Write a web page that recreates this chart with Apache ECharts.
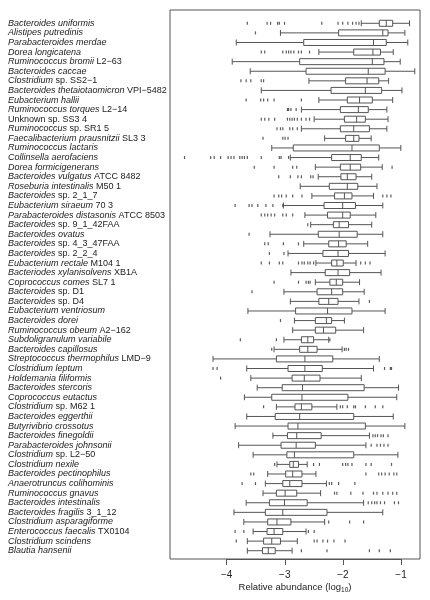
<!DOCTYPE html>
<html><head><meta charset="utf-8">
<script src="https://cdn.jsdelivr.net/npm/echarts@6/dist/echarts.min.js"></script>
<style>html,body{margin:0;padding:0;background:#fff}#c{width:430px;height:600px}</style>
</head><body><div id="c"></div>
<script>
// Italic (genus/species) part and upright (strain) part of each label
const italicNames = [
 'Bacteroides uniformis','Alistipes putredinis','Parabacteroides merdae','Dorea longicatena',
 'Ruminococcus bromii','Bacteroides caccae','Clostridium','Bacteroides thetaiotaomicron',
 'Eubacterium hallii','Ruminococcus torques','','Ruminococcus','Faecalibacterium prausnitzii',
 'Ruminococcus lactaris','Collinsella aerofaciens','Dorea formicigenerans','Bacteroides vulgatus',
 'Roseburia intestinalis','Bacteroides','Eubacterium siraeum','Parabacteroides distasonis',
 'Bacteroides','Bacteroides ovatus','Bacteroides','Bacteroides','Eubacterium rectale',
 'Bacteriodes xylanisolvens','Coprococcus comes','Bacteroides','Bacteroides','Eubacterium ventriosum',
 'Bacteroides dorei','Ruminococcus obeum','Subdoligranulum variabile','Bacteroides capillosus',
 'Streptococcus thermophilus','Clostridium leptum','Holdemania filiformis','Bacteroides stercoris',
 'Coprococcus eutactus','Clostridium','Bacteroides eggerthii','Butyrivibrio crossotus',
 'Bacteroides finegoldii','Parabacteroides johnsonii','Clostridium','Clostridium nexile',
 'Bacteroides pectinophilus','Anaerotruncus colihominis','Ruminococcus gnavus','Bacteroides intestinalis',
 'Bacteroides fragilis','Clostridium asparagiforme','Enterococcus faecalis','Clostridium scindens',
 'Blautia hansenii'
];
const strainNames = [
 '','','','','L2−63','','sp. SS2−1','VPI−5482','','L2−14','Unknown sp. SS3 4','sp. SR1 5','SL3 3',
 '','','','ATCC 8482','M50 1','sp. 2_1_7','70 3','ATCC 8503','sp. 9_1_42FAA','','sp. 4_3_47FAA',
 'sp. 2_2_4','M104 1','XB1A','SL7 1','sp. D1','sp. D4','','','A2−162','','','LMD−9','','','','',
 'sp. M62 1','','','','','sp. L2−50','','','','','','3_1_12','','TX0104','',''
];
// [whisker low, Q1, median, Q3, whisker high]
const boxStats = [
 [-1.68,-1.37,-1.25,-1.14,-0.85],[-3.07,-2.07,-1.31,-1.22,-0.93],[-3.83,-2.67,-1.47,-1.25,-0.88],
 [-2.41,-1.81,-1.48,-1.35,-1.13],[-3.90,-2.74,-1.49,-1.29,-1.01],[-3.59,-2.63,-1.56,-1.27,-0.76],
 [-2.58,-1.95,-1.58,-1.38,-1.21],[-3.40,-2.20,-1.61,-1.33,-0.98],[-2.41,-1.92,-1.71,-1.49,-1.14],
 [-2.71,-2.04,-1.73,-1.56,-1.24],[-2.49,-1.97,-1.76,-1.61,-1.22],[-2.71,-2.04,-1.81,-1.54,-1.24],
 [-2.31,-1.95,-1.81,-1.72,-1.51],[-3.22,-2.85,-1.84,-1.37,-1.00],[-2.90,-2.19,-1.87,-1.68,-1.38],
 [-2.47,-2.04,-1.87,-1.69,-1.32],[-2.42,-2.03,-1.92,-1.77,-1.50],[-2.73,-2.23,-1.92,-1.74,-1.41],
 [-2.53,-2.14,-1.97,-1.84,-1.47],[-3.02,-2.32,-2.00,-1.78,-1.31],[-2.65,-2.26,-2.00,-1.87,-1.43],
 [-2.55,-2.16,-2.06,-1.90,-1.50],[-3.25,-2.42,-2.06,-1.75,-1.31],[-2.67,-2.24,-2.07,-1.94,-1.57],
 [-2.94,-2.34,-2.08,-1.90,-1.27],[-2.46,-2.19,-2.10,-1.99,-1.77],[-2.89,-2.30,-2.08,-1.88,-1.34],
 [-2.47,-2.22,-2.11,-2.00,-1.71],[-3.01,-2.44,-2.19,-2.00,-1.63],[-2.90,-2.41,-2.24,-2.08,-1.72],
 [-3.63,-2.81,-2.26,-1.84,-1.27],[-2.83,-2.47,-2.28,-2.19,-1.97],[-2.86,-2.47,-2.33,-2.12,-1.64],
 [-3.01,-2.71,-2.60,-2.50,-2.24],[-3.18,-2.74,-2.60,-2.44,-2.01],[-4.23,-3.14,-2.65,-2.17,-1.37],
 [-3.65,-2.94,-2.65,-2.35,-1.47],[-3.58,-2.87,-2.66,-2.39,-1.68],[-3.47,-3.04,-2.69,-1.63,-1.04],
 [-3.69,-3.22,-2.70,-1.91,-1.07],[-3.14,-2.82,-2.71,-2.53,-2.10],[-3.65,-3.16,-2.74,-1.81,-1.13],
 [-3.85,-2.94,-2.77,-1.61,-0.93],[-3.20,-2.95,-2.79,-2.37,-1.54],[-3.79,-3.06,-2.80,-2.47,-1.60],
 [-3.54,-2.96,-2.83,-1.81,-1.05],[-3.13,-2.91,-2.85,-2.76,-2.61],[-3.29,-2.98,-2.86,-2.70,-2.46],
 [-3.33,-3.03,-2.91,-2.70,-2.28],[-3.37,-3.14,-2.99,-2.79,-2.38],[-3.66,-3.26,-3.00,-2.61,-1.64],
 [-3.87,-3.33,-3.03,-2.27,-1.31],[-3.70,-3.29,-3.13,-2.89,-2.31],[-3.54,-3.30,-3.18,-3.03,-2.63],
 [-3.64,-3.36,-3.22,-3.07,-2.78],[-3.64,-3.38,-3.28,-3.16,-2.87]
];
// outlying samples per row
const outlierValues = [
 [-3.64,-3.30,-3.24,-3.12,-3.09,-3.00,-2.36,-2.08,-2.00,-1.91,-1.83,-1.77,-1.72],
 [-3.50],[],
 [-3.40,-3.34,-3.03,-2.97,-2.93,-2.89,-2.84,-2.76,-2.71,-2.57],
 [],[],
 [-3.75,-3.66,-3.58,-3.40,-3.36],
 [],
 [-3.66,-3.41,-3.36,-3.29,-3.18,-2.71],
 [-2.95,-2.93,-2.89,-2.80],
 [-3.40,-3.34,-3.27,-3.17,-2.95,-2.91,-2.87,-2.83,-2.78,-2.71,-2.63,-2.57],
 [-3.13,-3.07,-3.03,-2.91,-2.86,-2.78],
 [-3.37,-3.03,-2.99,-2.94],
 [],
 [-4.72,-4.27,-4.21,-4.10,-3.97,-3.92,-3.87,-3.77,-3.73,-3.69,-3.64,-3.40,-3.09,-3.06,-2.93],
 [-3.52,-3.18,-2.86,-2.79,-1.15],
 [-3.10,-2.90,-2.77,-2.71,-2.55,-2.51],
 [],
 [-3.18,-3.10,-3.05,-2.97,-2.86,-2.70,-1.31,-1.24,-1.17],
 [-3.85,-3.61,-3.56,-3.46,-3.32,-3.20,-3.03],
 [-3.40,-3.34,-3.29,-3.23,-3.17,-3.03,-2.97,-2.86],
 [-2.60],[-3.61],
 [-3.34,-3.28,-3.02,-2.76],
 [-3.26,-3.01],
 [-3.40,-3.26,-3.09,-3.03,-2.76,-2.70,-2.66,-2.60,-2.56,-2.50,-1.69,-1.61,-1.53],
 [],
 [-3.18,-2.76,-2.63,-2.59,-2.56],
 [-3.56],[-1.54],[],[-3.07],[],
 [-3.76,-3.14,-2.22],
 [-3.22,-1.97,-1.94,-1.90],
 [],
 [-4.23,-4.16,-1.28,-1.18,-1.16],
 [-4.10],[],[],
 [-3.36,-2.04,-2.00,-1.92,-1.81,-1.78,-1.61,-1.44,-1.31],
 [],[],
 [-1.48,-1.44,-1.40,-1.34,-1.30,-1.22],
 [-1.51,-1.41,-1.35,-1.29,-1.22],
 [],
 [-3.17,-2.50,-2.40,-2.00,-1.95,-1.91,-1.84,-1.60,-1.51,-1.16],
 [-3.58,-3.53,-1.60,-1.38,-1.33,-1.27,-1.20,-1.12,-1.07],
 [-3.73,-3.50,-2.23,-2.19,-2.07,-1.79],
 [-2.14,-2.10,-1.86,-1.65,-1.47,-1.41,-1.31,-1.22,-1.14,-1.07],
 [-1.56,-1.50,-1.45,-1.41,-1.35,-1.28,-1.11,-1.04],
 [],
 [-2.24,-1.88,-1.64],
 [-3.85,-3.70,-2.59,-2.49],
 [-3.83,-2.49,-2.44,-2.34,-2.26,-2.15,-1.96],
 [-2.71,-2.27,-1.54,-1.37,-1.18]
];
const tickValues = [-4,-3,-2,-1];
const axisTitle = ['Relative abundance (log', '10', ')'];

const categories = italicNames.map((n,i)=> (n && strainNames[i]) ? n+' '+strainNames[i] : (n || strainNames[i]));
const outlierPoints = [];
outlierValues.forEach((row,i)=> row.forEach(v=> outlierPoints.push([v,i])));
const FONT = 'Liberation Sans, Arial, Helvetica, sans-serif';
const minus = v => (v<0?'\u2212':'') + Math.abs(v);

const chart = echarts.init(document.getElementById('c'), null, {renderer:'canvas'});
chart.setOption({
  animation:false,
  backgroundColor:'#fff',
  grid:[
    {left:170,right:10,top:10,bottom:41,show:true,borderColor:'#555',borderWidth:1,backgroundColor:'rgba(0,0,0,0)'},
    {left:170,right:10,top:18.5,bottom:44.5},
    {left:226.7,right:29,top:558,bottom:41}
  ],
  xAxis:[
    {gridIndex:0,type:'value',min:-4.97,max:-0.67,
     axisLine:{show:false},axisTick:{show:false},axisLabel:{show:false},splitLine:{show:false},
     name:'{a|'+axisTitle[0]+'}{s|'+axisTitle[1]+'}{a|'+axisTitle[2]+'}',
     nameLocation:'middle',nameGap:21,
     nameTextStyle:{rich:{
       a:{fontFamily:FONT,fontSize:9.5,color:'#222',lineHeight:12,verticalAlign:'middle'},
       s:{fontFamily:FONT,fontSize:6.5,color:'#222',lineHeight:14,verticalAlign:'bottom'}
     }}},
    {gridIndex:1,type:'value',min:-4.97,max:-0.67,show:false,splitLine:{show:false}},
    {gridIndex:2,type:'value',min:-4,max:-1,interval:1,
     axisLine:{show:true,lineStyle:{color:'#555',width:1}},
     axisTick:{show:true,length:6,inside:false,lineStyle:{color:'#555',width:1}},
     axisLabel:{formatter:minus,fontFamily:FONT,fontSize:10,color:'#222',margin:11,customValues:tickValues},
     splitLine:{show:false}}
  ],
  yAxis:[
    {gridIndex:0,type:'value',show:false},
    {gridIndex:1,type:'category',data:categories,inverse:true,
     axisLine:{show:false},axisTick:{show:false},splitLine:{show:false},
     axisLabel:{interval:0,align:'left',margin:162,hideOverlap:false,
       formatter:(v,i)=>{
         const it = italicNames[i], st = strainNames[i];
         let s = '';
         if(it) s += '{i|'+it+'}';
         if(st) s += '{n|'+(it?' ':'')+st+'}';
         return s;
       },
       rich:{
         i:{fontFamily:FONT,fontSize:9,fontStyle:'italic',color:'#222'},
         n:{fontFamily:FONT,fontSize:9,color:'#222'}
       }}},
    {gridIndex:2,type:'value',show:false}
  ],
  series:[
    {type:'boxplot',xAxisIndex:1,yAxisIndex:1,data:boxStats,boxWidth:[6,6],silent:true,
     itemStyle:{color:'#fff',borderColor:'#555',borderWidth:1}},
    {type:'scatter',xAxisIndex:1,yAxisIndex:1,data:outlierPoints,symbol:'rect',symbolSize:[1.2,3],silent:true,
     itemStyle:{color:'#333'}}
  ]
});
</script></body></html>
